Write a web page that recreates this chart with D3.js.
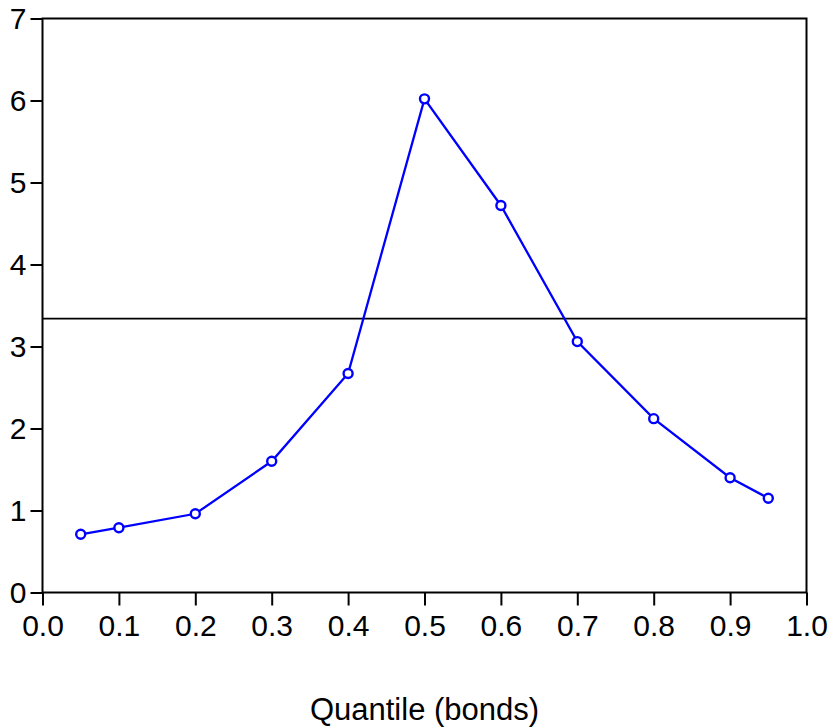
<!DOCTYPE html>
<html><head><meta charset="utf-8">
<script src="https://cdn.jsdelivr.net/npm/d3@7"></script>
<style>body{margin:0;background:#fff}</style>
</head><body>
<svg id="c" width="828" height="727"></svg>
<script>
const quantiles = [0.05,0.1,0.2,0.3,0.4,0.5,0.6,0.7,0.8,0.9,0.95];
const values = [0.71,0.79,0.96,1.60,2.67,6.02,4.72,3.06,2.12,1.40,1.15];
const refLine = 3.34;
const xTicks = [0,0.1,0.2,0.3,0.4,0.5,0.6,0.7,0.8,0.9,1.0];
const yTicks = [0,1,2,3,4,5,6,7];
const xTitle = "Quantile (bonds)";

const svg = d3.select("#c");
const L=42.5, R=806.5, T=18.5, B=592.5;
const x = d3.scaleLinear().domain([0,1]).range([L,R]);
const y = d3.scaleLinear().domain([0,7]).range([B,T]);
const font = "'Liberation Sans', Arial, Helvetica, sans-serif";

svg.append("rect").attr("x",L).attr("y",T).attr("width",R-L).attr("height",B-T)
  .attr("fill","none").attr("stroke","#000").attr("stroke-width",2);

const xa = svg.append("g").attr("transform",`translate(0,${B})`)
  .call(d3.axisBottom(x).tickValues(xTicks).tickFormat(d3.format(".1f")).tickSize(13).tickPadding(9));
const ya = svg.append("g").attr("transform",`translate(${L},0)`)
  .call(d3.axisLeft(y).tickValues(yTicks).tickFormat(d3.format("d")).tickSize(12).tickPadding(4));
[xa,ya].forEach(a=>{
  a.select(".domain").remove();
  a.selectAll("line").attr("stroke","#000").attr("stroke-width",2);
  a.selectAll("text").attr("font-family",font).attr("font-size",30).attr("fill","#000");
});

svg.append("line").attr("x1",L).attr("x2",R).attr("y1",y(refLine)).attr("y2",y(refLine))
  .attr("stroke","#000").attr("stroke-width",1.8);

const pts = quantiles.map((q,i)=>[q,values[i]]);
svg.append("path").datum(pts)
  .attr("d",d3.line().x(d=>x(d[0])).y(d=>y(d[1])))
  .attr("fill","none").attr("stroke","#0000ff").attr("stroke-width",2.3);
svg.selectAll("circle.p").data(pts).enter().append("circle")
  .attr("cx",d=>x(d[0])).attr("cy",d=>y(d[1])).attr("r",4.5)
  .attr("fill","#fff").attr("stroke","#0000ff").attr("stroke-width",2.4);

svg.append("text").attr("x",(L+R)/2).attr("y",720).attr("text-anchor","middle")
  .attr("font-family",font).attr("font-size",31).attr("fill","#000").text(xTitle);
</script>
</body></html>
